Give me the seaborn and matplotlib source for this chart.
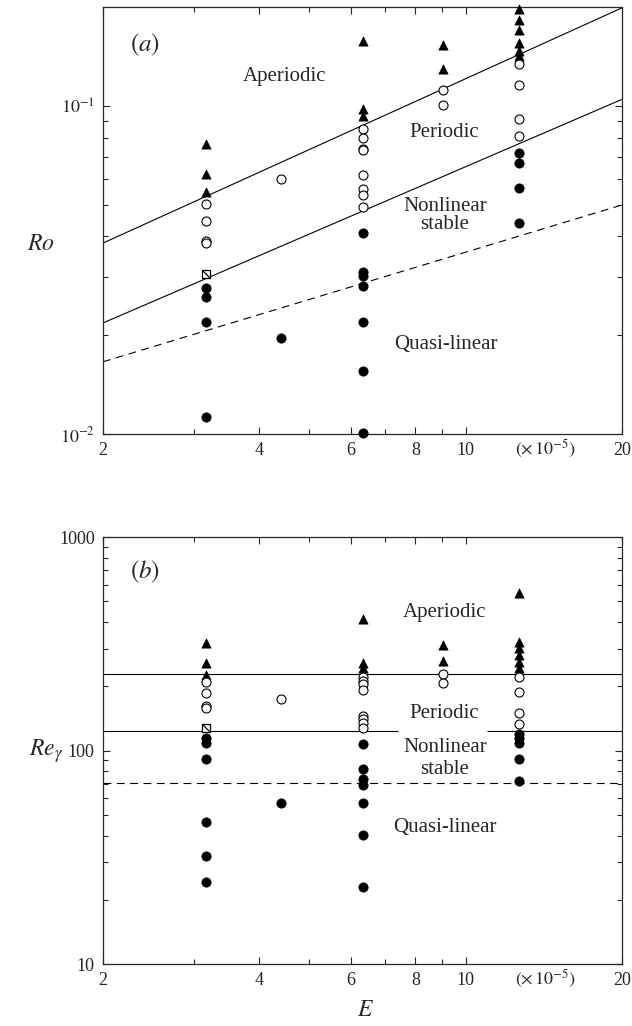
import numpy as np
import pandas as pd
import seaborn as sns
import matplotlib.pyplot as plt
from matplotlib.path import Path

# E of the runs (x 10^-5)
e_runs = [3.16, 4.4, 6.33, 9.05, 12.65]

# panel (a): Ro
ro_aper_E = [3.16, 3.16, 3.16, 6.33, 6.33, 6.33, 9.05, 9.05,
             12.65, 12.65, 12.65, 12.65, 12.65, 12.65]
ro_aper = [0.0764, 0.0619, 0.0546, 0.158, 0.098, 0.093, 0.153, 0.130,
           0.198, 0.183, 0.170, 0.155, 0.147, 0.142]

ro_per_E = [3.16, 3.16, 3.16, 3.16, 4.4,
            6.33, 6.33, 6.33, 6.33, 6.33, 6.33, 6.33, 6.33,
            9.05, 9.05, 12.65, 12.65, 12.65, 12.65]
ro_per = [0.0503, 0.0447, 0.0388, 0.0383, 0.0599,
          0.0853, 0.0798, 0.0741, 0.0736, 0.0614, 0.0559, 0.0536, 0.0491,
          0.1117, 0.101, 0.134, 0.116, 0.0915, 0.081]

ro_stab_E = [3.16, 3.16, 3.16, 3.16, 4.4,
             6.33, 6.33, 6.33, 6.33, 6.33, 6.33, 6.33,
             12.65, 12.65, 12.65, 12.65]
ro_stab = [0.0278, 0.0262, 0.0219, 0.0113, 0.0196,
           0.0410, 0.0311, 0.0304, 0.0282, 0.0219, 0.0156, 0.0101,
           0.072, 0.0671, 0.0561, 0.0440]

ro_sq_E = [3.16]
ro_sq = [0.0308]

# boundaries in (a), given at E = 2 and E = 20
bound_E = [2, 20]
ro_aper_line = [0.0382, 0.199]
ro_per_line = [0.0218, 0.1047]
ro_ql_line = [0.0166, 0.0499]

# panel (b): Re_gamma
re_aper_E = [3.16, 3.16, 3.16, 6.33, 6.33, 6.33, 9.05, 9.05,
             12.65, 12.65, 12.65, 12.65, 12.65, 12.65]
re_aper = [318, 257, 225, 413, 256, 243, 313, 264,
           547, 324, 302, 280, 260, 243]

re_per_E = [3.16, 3.16, 3.16, 3.16, 4.4,
            6.33, 6.33, 6.33, 6.33, 6.33, 6.33, 6.33, 6.33,
            9.05, 9.05, 12.65, 12.65, 12.65, 12.65]
re_per = [209, 186, 162, 159, 174,
          222, 212, 205, 192, 145, 140, 134, 128,
          229, 207, 222, 189, 150, 133]

re_stab_E = [3.16, 3.16, 3.16, 3.16, 3.16, 3.16, 4.4,
             6.33, 6.33, 6.33, 6.33, 6.33, 6.33, 6.33,
             12.65, 12.65, 12.65, 12.65, 12.65]
re_stab = [114, 108, 91.4, 46.5, 32.2, 24.3, 57.0,
           107, 81.7, 74, 69, 56.6, 40.3, 23.0,
           120, 114, 109, 91.4, 72.3]

re_sq_E = [3.16]
re_sq = [127]

re_aper_level = 229
re_per_level = 123
re_ql_level = 70.3
re_per_gap = [7.4, 11.0]   # line broken behind the labels


def make_df(pairs):
    frames = []
    for name, xs, ys in pairs:
        frames.append(pd.DataFrame({'E': xs, 'val': ys, 'regime': name}))
    return pd.concat(frames, ignore_index=True)


df_a = make_df([('aperiodic', ro_aper_E, ro_aper), ('periodic', ro_per_E, ro_per),
                ('stable', ro_stab_E, ro_stab), ('square', ro_sq_E, ro_sq)])
df_b = make_df([('aperiodic', re_aper_E, re_aper), ('periodic', re_per_E, re_per),
                ('stable', re_stab_E, re_stab), ('square', re_sq_E, re_sq)])

sns.set_theme(style='ticks')
plt.rcParams['font.family'] = ['Liberation Serif', 'DejaVu Serif']
plt.rcParams['mathtext.fontset'] = 'stix'

styles = {
    'aperiodic': dict(marker='^', color='black', edgecolor='black', s=44, linewidth=0.5),
    'periodic': dict(marker='o', color='white', edgecolor='black', s=42, linewidth=0.8),
    'stable': dict(marker='o', color='black', edgecolor='black', s=45, linewidth=0.5),
    'square': dict(marker='s', color='white', edgecolor='black', s=36, linewidth=0.9),
}
slash = Path([(-1, 1), (1, -1)], [Path.MOVETO, Path.LINETO])

fig = plt.figure(figsize=(6.32, 10.26), dpi=100)
ax1 = fig.add_axes([0.163, 0.577, 0.821, 0.416])
ax2 = fig.add_axes([0.163, 0.0604, 0.821, 0.416])

for ax, df in [(ax1, df_a), (ax2, df_b)]:
    for reg, st in styles.items():
        sub = df[df['regime'] == reg]
        sns.scatterplot(data=sub, x='E', y='val', ax=ax, zorder=3, clip_on=False,
                        legend=False, **st)
    sq = df[df['regime'] == 'square']
    ax.scatter(sq['E'], sq['val'], marker=slash, s=36, color='black',
               linewidth=0.9, zorder=4)

# boundary lines
ax1.plot(bound_E, ro_aper_line, color='black', lw=0.8)
ax1.plot(bound_E, ro_per_line, color='black', lw=0.8)
ax1.plot(bound_E, ro_ql_line, color='black', lw=0.8, ls=(0, (7, 5)))

ax2.hlines(re_aper_level, bound_E[0], bound_E[1], color='black', lw=0.8)
ax2.hlines(re_per_level, bound_E[0], re_per_gap[0], color='black', lw=0.8)
ax2.hlines(re_per_level, re_per_gap[1], bound_E[1], color='black', lw=0.8)
ax2.hlines(re_ql_level, bound_E[0], bound_E[1], color='black', lw=0.8,
           linestyles=[(0, (7, 5))])

# axes
for ax in (ax1, ax2):
    ax.set_xscale('log')
    ax.set_yscale('log')
    ax.set_xlim(2, 20)
    ax.set_xticks([2, 4, 6, 8, 10, 20])
    ax.set_xticklabels(['2', '4', '6', '8', '10', '20'])
    ax.set_xticks([3, 5, 7, 9], minor=True)
    ax.set_xticklabels([], minor=True)
    ax.tick_params(which='both', direction='in', top=True, right=True,
                   labelsize=13, width=0.8, pad=6)
    ax.tick_params(which='major', length=5)
    ax.tick_params(which='minor', length=3.5)
    for sp in ax.spines.values():
        sp.set_linewidth(0.9)
    ax.text(0.852, -0.036, r'$(\times\,10^{-5})$', transform=ax.transAxes,
            ha='center', va='center', fontsize=13)

ax1.set_ylim(0.01, 0.2)
ax1.set_yticks([0.01, 0.1])
ax1.set_yticklabels([r'$10^{-2}$', r'$10^{-1}$'])
ax1.set_yticks([0.02, 0.03, 0.04, 0.05, 0.06, 0.07, 0.08, 0.09], minor=True)
ax1.set_yticklabels([], minor=True)

ax2.set_ylim(10, 1000)
ax2.set_yticks([10, 100, 1000])
ax2.set_yticklabels(['10', '100', '1000'])
ax2.set_yticks([20, 30, 40, 50, 60, 70, 80, 90,
                200, 300, 400, 500, 600, 700, 800, 900], minor=True)
ax2.set_yticklabels([], minor=True)

ax1.set_xlabel('')
ax1.set_ylabel(r'$Ro$', rotation=0, fontsize=17, va='center')
ax1.yaxis.set_label_coords(-0.12, 0.445)
ax2.set_ylabel(r'$Re_\gamma$', rotation=0, fontsize=17, va='center')
ax2.yaxis.set_label_coords(-0.11, 0.50)
ax2.set_xlabel(r'$E$', fontsize=17, va='center')
ax2.xaxis.set_label_coords(0.505, -0.108)

# region labels
fs = 15
ax1.text(2.41, 0.154, r'$(a)$', fontsize=18, ha='center', va='center')
ax1.text(4.48, 0.123, 'Aperiodic', fontsize=fs, ha='center', va='center')
ax1.text(9.08, 0.083, 'Periodic', fontsize=fs, ha='center', va='center')
ax1.text(9.12, 0.0494, 'Nonlinear', fontsize=fs, ha='center', va='center')
ax1.text(9.12, 0.0435, 'stable', fontsize=fs, ha='center', va='center')
ax1.text(9.15, 0.01875, 'Quasi-linear', fontsize=fs, ha='center', va='center')

ax2.text(2.41, 687, r'$(b)$', fontsize=18, ha='center', va='center')
ax2.text(9.12, 446, 'Aperiodic', fontsize=fs, ha='center', va='center')
ax2.text(9.08, 148.6, 'Periodic', fontsize=fs, ha='center', va='center')
ax2.text(9.12, 103, 'Nonlinear', fontsize=fs, ha='center', va='center')
ax2.text(9.12, 81.2, 'stable', fontsize=fs, ha='center', va='center')
ax2.text(9.12, 43.4, 'Quasi-linear', fontsize=fs, ha='center', va='center')

fig.savefig('out.png', dpi=100, facecolor='white')
